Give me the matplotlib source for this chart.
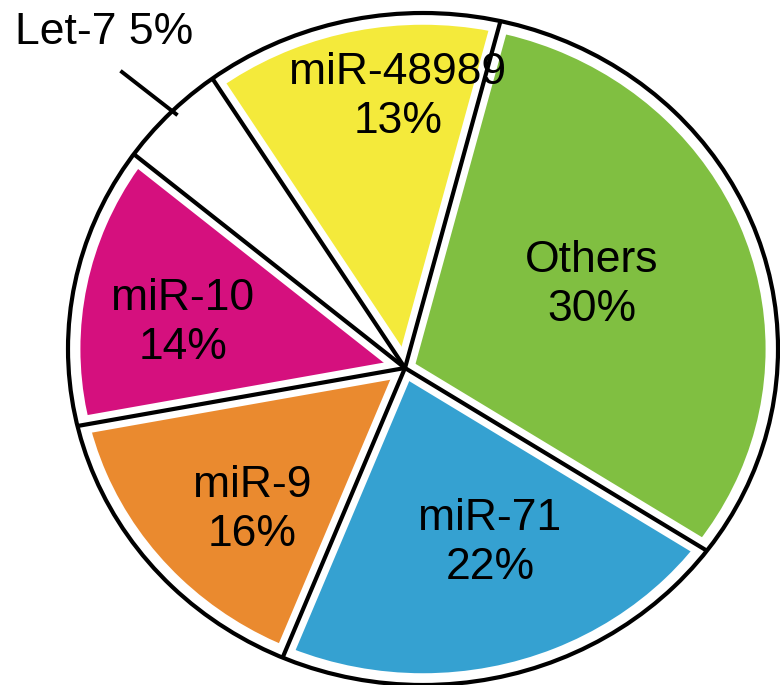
import numpy as np
import matplotlib.pyplot as plt
from matplotlib.patches import Circle, Wedge

# slices, counter-clockwise starting at the Others / miR-71 border
labels = ["Others", "miR-48989", "Let-7", "miR-10", "miR-9", "miR-71"]
percent = [30, 13, 5, 14, 16, 22]
colors = ["#80BF41", "#F4EA3B", "#FFFFFF", "#D5107E", "#EA8A2F", "#35A1D1"]

plt.rcParams['font.family'] = ['Liberation Sans', 'DejaVu Sans']

W, H = 780, 685
fig = plt.figure(figsize=(W / 100, H / 100), dpi=100)
ax = fig.add_axes([0, 0, 1, 1])

# outer ring is a bit squashed in the original (355 x 336 px), centre at (423, 349)
CX, CY, RX, RY = 423, 349, 355, 336


def px(x, y):
    # pixel position -> data coords
    return (x - CX) / RX, (CY - y) / RY


pc = px(405, 368)  # where the slice borders meet
gap = 0.965        # coloured part stops a bit short of the ring

wedges, _ = ax.pie(percent, colors=colors, startangle=-32.6, center=pc,
                   radius=1.6, wedgeprops=dict(linewidth=0))

# white mask outside the coloured area (clip paths did not take)
ax.add_patch(Wedge((0, 0), 4.0, 0, 360, width=4.0 - gap, fc='white',
                   ec='none', zorder=2))

# slice borders: white band with a black line on top, running out to the ring
p = np.array(pc)
ends = []
for w in wedges:
    a = np.deg2rad(w.theta1)
    u = np.array([np.cos(a), np.sin(a)])
    b = u @ p
    t = -b + np.sqrt(b * b - p @ p + 1.0)
    ends.append(p + t * u)
for q in ends:
    ax.plot([p[0], q[0]], [p[1], q[1]], color='white', lw=13,
            solid_capstyle='butt', zorder=3)
for q in ends:
    ax.plot([p[0], q[0]], [p[1], q[1]], color='black', lw=3.0,
            solid_capstyle='butt', zorder=4)

ax.add_patch(Circle((0, 0), 1.0, fill=False, ec='black', lw=3.0, zorder=5))

# leader line for Let-7
l0, l1 = px(122, 72), px(176, 114)
ax.plot([l0[0], l1[0]], [l0[1], l1[1]], color='black', lw=2.8, zorder=5)

ax.set_xlim(-CX / RX, (W - CX) / RX)
ax.set_ylim((CY - H) / RY, CY / RY)
ax.set_aspect('auto')
ax.axis('off')

# label spots (pixels), same order as labels
spots = [(592, 285), (398, 97), None, (183, 323), (252, 510), (490, 543)]
for lab, pct, s in zip(labels, percent, spots):
    if s is None:
        continue
    fig.text(s[0] / W, 1 - s[1] / H, f"{lab}\n{pct}%", ha='center',
             va='center', fontsize=32, linespacing=1.25)

fig.text(15 / W, 1 - 33 / H, f"{labels[2]} {percent[2]}%", ha='left',
         va='center', fontsize=32)

fig.savefig("out.png", dpi=100)
